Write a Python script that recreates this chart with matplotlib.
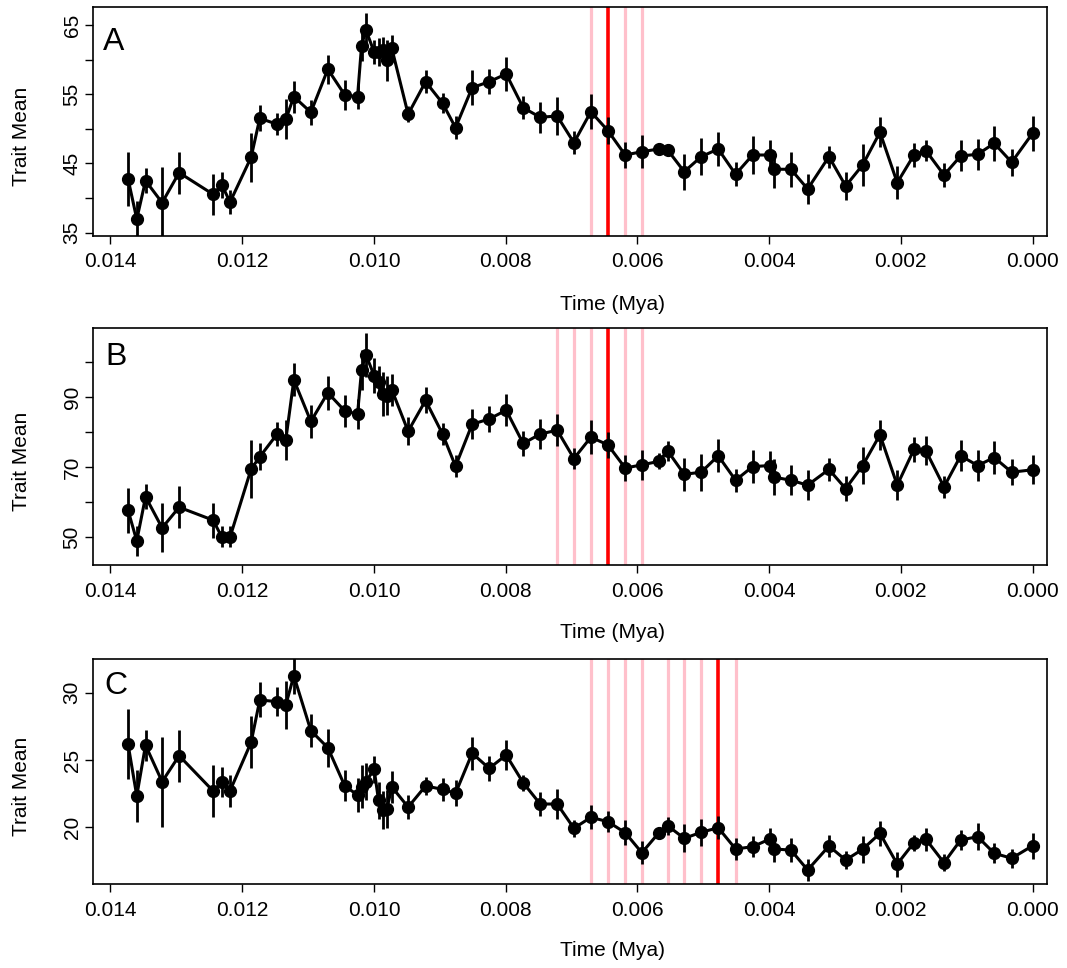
import matplotlib
matplotlib.use("Agg")
import matplotlib.pyplot as plt
import numpy as np

plt.rcParams['font.family'] = ['Liberation Sans', 'DejaVu Sans']

# Time points (Mya)
time = [0.013733, 0.013601, 0.013468, 0.013216, 0.012958, 0.012442, 0.012310, 0.012184,
        0.011865, 0.011733, 0.011470, 0.011338, 0.011216, 0.010958, 0.010700, 0.010442,
        0.010249, 0.010188, 0.010123, 0.009997, 0.009930, 0.009869, 0.009804, 0.009728,
        0.009481, 0.009216, 0.008958, 0.008761, 0.008509, 0.008251, 0.007992, 0.007734,
        0.007476, 0.007218, 0.006964, 0.006706, 0.006448, 0.006185, 0.005932, 0.005673,
        0.005541, 0.005289, 0.005031, 0.004773, 0.004509, 0.004251, 0.003988, 0.003927,
        0.003669, 0.003415, 0.003092, 0.002838, 0.002580, 0.002317, 0.002055, 0.001801,
        0.001619, 0.001345, 0.001092, 0.000834, 0.000582, 0.000317, 0.000000]

# Panel A
mean_a = [42.75, 36.97, 42.5, 39.32, 43.66, 40.53, 41.88, 39.42,
          45.88, 51.52, 50.65, 51.37, 54.64, 52.38, 58.6, 54.88,
          54.64, 62.0, 64.3, 61.1, 61.1, 61.4, 59.9, 61.6,
          52.1, 56.8, 53.7, 50.16, 55.94, 56.8, 57.92, 53.05,
          51.66, 51.85, 47.99, 52.47, 49.73, 46.21, 46.69, 47.08,
          46.94, 43.8, 45.97, 47.08, 43.42, 46.21, 46.21, 44.15,
          44.15, 41.3, 45.97, 41.73, 44.77, 49.5, 42.21, 46.21,
          46.84, 43.32, 46.07, 46.31, 47.9, 45.16, 49.35]
err_a = [3.85, 2.6, 1.8, 5.2, 3.05, 3.0, 1.85, 1.7,
         3.5, 1.85, 1.6, 2.9, 2.3, 1.8, 2.1, 2.1,
         1.85, 2.2, 2.4, 1.8, 2.0, 1.8, 3.0, 2.0,
         1.15, 1.7, 1.45, 1.7, 2.5, 1.8, 2.4, 1.7,
         2.2, 2.7, 1.7, 2.5, 2.0, 1.9, 2.4, 0.7,
         0.85, 2.6, 2.65, 2.45, 1.73, 2.7, 2.1, 2.7,
         2.5, 2.2, 1.6, 2.0, 3.0, 2.2, 2.4, 1.76,
         1.56, 1.76, 2.24, 2.26, 2.5, 1.93, 2.5]

# Panel B
mean_b = [57.6, 48.9, 61.5, 52.6, 58.5, 54.8, 50.0, 50.0,
          69.4, 72.9, 79.4, 77.8, 94.9, 83.0, 91.2, 86.0,
          85.1, 97.7, 102.1, 96.1, 94.2, 90.9, 90.4, 92.0,
          80.2, 89.0, 79.4, 70.2, 82.2, 83.7, 86.2, 76.7,
          79.4, 80.5, 72.4, 78.5, 76.3, 69.7, 70.6, 71.6,
          74.6, 67.9, 68.5, 73.2, 66.2, 70.1, 70.4, 67.1,
          66.2, 64.8, 69.3, 63.8, 70.4, 79.2, 64.8, 75.0,
          74.6, 64.3, 73.2, 70.4, 72.7, 68.5, 69.2]
err_b = [6.4, 4.2, 3.6, 7.0, 6.0, 5.0, 3.0, 3.0,
         8.2, 3.9, 3.5, 5.7, 4.7, 4.6, 4.8, 4.6,
         4.3, 5.8, 6.3, 5.0, 4.5, 6.3, 5.5, 4.5,
         4.0, 3.7, 3.2, 3.2, 4.3, 3.8, 4.5, 3.5,
         4.4, 4.5, 3.0, 4.8, 3.6, 3.6, 4.3, 2.3,
         2.8, 4.7, 5.3, 4.7, 3.3, 4.7, 4.2, 5.1,
         4.3, 4.2, 3.2, 3.6, 5.4, 4.3, 4.3, 3.5,
         4.1, 3.2, 4.4, 4.5, 4.7, 3.7, 4.2]

# Panel C
mean_c = [26.17, 22.33, 26.1, 23.39, 25.32, 22.7, 23.34, 22.72,
          26.31, 29.46, 29.33, 29.09, 31.26, 27.18, 25.91, 23.07,
          22.4, 23.0, 23.4, 24.3, 22.0, 21.3, 21.35, 23.0,
          21.5, 23.07, 22.82, 22.53, 25.5, 24.38, 25.37, 23.31,
          21.73, 21.73, 19.93, 20.74, 20.42, 19.6, 18.11, 19.6,
          20.12, 19.18, 19.63, 19.97, 18.39, 18.56, 19.13, 18.39,
          18.31, 16.83, 18.61, 17.57, 18.37, 19.55, 17.27, 18.86,
          19.11, 17.37, 19.06, 19.3, 18.07, 17.7, 18.63]
err_c = [2.6, 1.92, 1.14, 3.34, 1.94, 1.94, 1.11, 1.18,
         1.94, 1.3, 1.06, 1.77, 1.34, 1.24, 1.4, 1.15,
         1.24, 1.6, 1.4, 1.0, 1.4, 1.4, 1.4, 1.2,
         0.87, 0.68, 0.85, 0.97, 1.24, 0.95, 1.11, 0.58,
         0.89, 1.09, 0.64, 0.89, 0.76, 0.94, 0.87, 0.37,
         0.68, 1.03, 1.02, 0.87, 0.83, 0.8, 0.84, 0.99,
         0.9, 0.8, 0.8, 0.68, 0.99, 0.93, 0.93, 0.59,
         0.84, 0.62, 0.76, 0.99, 0.74, 0.72, 0.97]

# Shift markers (Mya)
pink_a = [0.006706, 0.006185, 0.005932]
red_a = [0.006448]
pink_b = [0.007218, 0.006964, 0.006706, 0.006185, 0.005932]
red_b = [0.006448]
pink_c = [0.006706, 0.006448, 0.006185, 0.005932, 0.005541, 0.005289, 0.005031, 0.004509]
red_c = [0.004773]

labels = ["A", "B", "C"]
xticks = [0.014, 0.012, 0.010, 0.008, 0.006, 0.004, 0.002, 0.000]
xticklabels = ["0.014", "0.012", "0.010", "0.008", "0.006", "0.004", "0.002", "0.000"]
yticks_a = [35, 40, 45, 50, 55, 60, 65]
ylabels_a = {35: "35", 45: "45", 55: "55", 65: "65"}
yticks_b = [50, 60, 70, 80, 90, 100]
ylabels_b = {50: "50", 70: "70", 90: "90"}
yticks_c = [20, 25, 30]
ylabels_c = {20: "20", 25: "25", 30: "30"}

W, H = 1067, 968
fig = plt.figure(figsize=(W / 100, H / 100), dpi=100)
FS = 15

def px_axes(left, right, top, bottom):
    return fig.add_axes([left / W, 1 - bottom / H, (right - left) / W, (bottom - top) / H])

panels = [
    (mean_a, err_a, pink_a, red_a, yticks_a, ylabels_a, (34.55, 67.64), (6.7, 235.7), (114, 42), 304, 136),
    (mean_b, err_b, pink_b, red_b, yticks_b, ylabels_b, (42.0, 109.6), (328.3, 565.0), (116, 357), 633, 461),
    (mean_c, err_c, pink_c, red_c, yticks_c, ylabels_c, (15.79, 32.5), (659.0, 884.0), (116, 686), 950, 786),
]

for i, (m, e, pk, rd, yt, yl, ylim, (top, bot), lab_xy, xl_y, yl_y) in enumerate(panels):
    ax = px_axes(92.7, 1047, top, bot)
    for t in pk:
        ax.axvline(t, color="#FFC0CB", lw=2.3, zorder=1)
    for t in rd:
        ax.axvline(t, color="#FF0000", lw=2.6, zorder=1)
    ax.errorbar(time, m, yerr=e, fmt="none", ecolor="black", elinewidth=2.0, capsize=0, zorder=3)
    ax.plot(time, m, color="black", lw=2.2, marker="o", markersize=8.5, zorder=4)
    ax.set_xlim(0.01427, -0.000219)
    ax.set_ylim(*ylim)
    ax.set_xticks(xticks)
    ax.set_xticklabels(xticklabels, fontsize=FS)
    ax.set_yticks(yt)
    ax.set_yticklabels([yl.get(v, "") for v in yt], fontsize=FS, rotation=90, va="center")
    ax.tick_params(axis="x", direction="out", length=6, width=1, pad=6)
    ax.tick_params(axis="y", direction="out", length=6, width=1, pad=2)
    for s in ax.spines.values():
        s.set_linewidth(1.2)
    fig.text(613 / W, 1 - xl_y / H, "Time (Mya)", fontsize=FS, ha="center", va="center")
    fig.text(22 / W, 1 - yl_y / H, "Trait Mean", fontsize=FS, ha="center", va="center", rotation=90)
    fig.text(lab_xy[0] / W, 1 - lab_xy[1] / H, labels[i], fontsize=23, ha="center", va="center")

fig.savefig("out.png", dpi=100)
